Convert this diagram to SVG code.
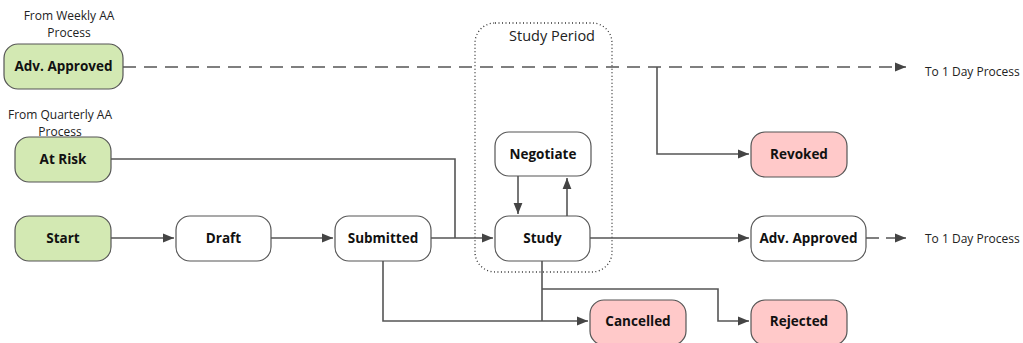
<svg xmlns="http://www.w3.org/2000/svg" width="1023" height="343" viewBox="0 0 1023 343">
<style>
.n rect{stroke:#555;stroke-width:1.2}
.w{fill:#fff}.g{fill:#d3e9b3}.p{fill:#ffc9c9}
.t{font-family:"Open Sans","Liberation Sans",sans-serif;font-weight:bold;font-size:13.5px;fill:#111;text-anchor:middle}
.s{font-family:"Open Sans","Liberation Sans",sans-serif;font-size:12px;fill:#222}
.c{fill:none;stroke:#555;stroke-width:1.6}
.d{stroke-dasharray:13 8}
</style>
<defs>
<marker id="b" viewBox="0 0 10 10" refX="10" refY="5" markerWidth="11" markerHeight="11" markerUnits="userSpaceOnUse" orient="auto"><path d="M0,1L10,5L0,9z" fill="#444"/></marker>
</defs>
<g id="study-period">
<rect x="475" y="23" width="137" height="249" rx="20" fill="none" stroke="#333" stroke-width="1.3" stroke-dasharray="1 2.5"/>
<text x="552" y="41" class="s" style="font-size:14.5px" text-anchor="middle">Study Period</text>
</g>
<g id="connectors">
<path class="c d" d="M123 67H906" marker-end="url(#b)"/>
<path class="c" d="M657 67V154H749" marker-end="url(#b)"/>
<path class="c" d="M111 159H455V238"/>
<path class="c" d="M111 238H174" marker-end="url(#b)"/>
<path class="c" d="M271 238H333" marker-end="url(#b)"/>
<path class="c" d="M431 238H493" marker-end="url(#b)"/>
<path class="c" d="M383 261V321H588" marker-end="url(#b)"/>
<path class="c" d="M518 176V214" marker-end="url(#b)"/>
<path class="c" d="M567 216V178" marker-end="url(#b)"/>
<path class="c" d="M590 238H749" marker-end="url(#b)"/>
<path class="c" d="M542 261V321"/>
<path class="c" d="M542 289H718V321H749" marker-end="url(#b)"/>
<path class="c" d="M866 238H879M886 238H906" marker-end="url(#b)"/>
</g>
<g id="label-weekly"><text class="s" text-anchor="middle" x="69" y="20">From Weekly AA</text><text class="s" text-anchor="middle" x="69" y="37">Process</text></g>
<g id="label-quarterly"><text class="s" text-anchor="middle" x="60" y="119">From Quarterly AA</text><text class="s" text-anchor="middle" x="60" y="136">Process</text></g>
<g id="to1day-top"><text class="s" x="925" y="76">To 1 Day Process</text></g>
<g id="to1day-bottom"><text class="s" x="925" y="243">To 1 Day Process</text></g>
<g id="adv-approved-in" class="n"><rect class="g" x="4" y="44" width="119" height="45" rx="14"/><text class="t" x="63.5" y="71">Adv. Approved</text></g>
<g id="at-risk" class="n"><rect class="g" x="15" y="137" width="96" height="45" rx="14"/><text class="t" x="63" y="164">At Risk</text></g>
<g id="start" class="n"><rect class="g" x="15" y="216" width="96" height="45" rx="14"/><text class="t" x="63" y="243">Start</text></g>
<g id="draft" class="n"><rect class="w" x="176" y="216" width="95" height="45" rx="14"/><text class="t" x="223.5" y="243">Draft</text></g>
<g id="submitted" class="n"><rect class="w" x="335" y="216" width="96" height="45" rx="14"/><text class="t" x="383" y="243">Submitted</text></g>
<g id="negotiate" class="n"><rect class="w" x="495" y="132" width="96" height="44" rx="14"/><text class="t" x="543" y="159">Negotiate</text></g>
<g id="study" class="n"><rect class="w" x="495" y="216" width="95" height="45" rx="14"/><text class="t" x="542.5" y="243">Study</text></g>
<g id="revoked" class="n"><rect class="p" x="751" y="132" width="96" height="45" rx="14"/><text class="t" x="799" y="159">Revoked</text></g>
<g id="adv-approved-out" class="n"><rect class="w" x="751" y="216" width="115" height="45" rx="14"/><text class="t" x="808.5" y="243">Adv. Approved</text></g>
<g id="cancelled" class="n"><rect class="p" x="590" y="300" width="96" height="45" rx="14"/><text class="t" x="638" y="326">Cancelled</text></g>
<g id="rejected" class="n"><rect class="p" x="751" y="300" width="96" height="45" rx="14"/><text class="t" x="799" y="326">Rejected</text></g>
</svg>
